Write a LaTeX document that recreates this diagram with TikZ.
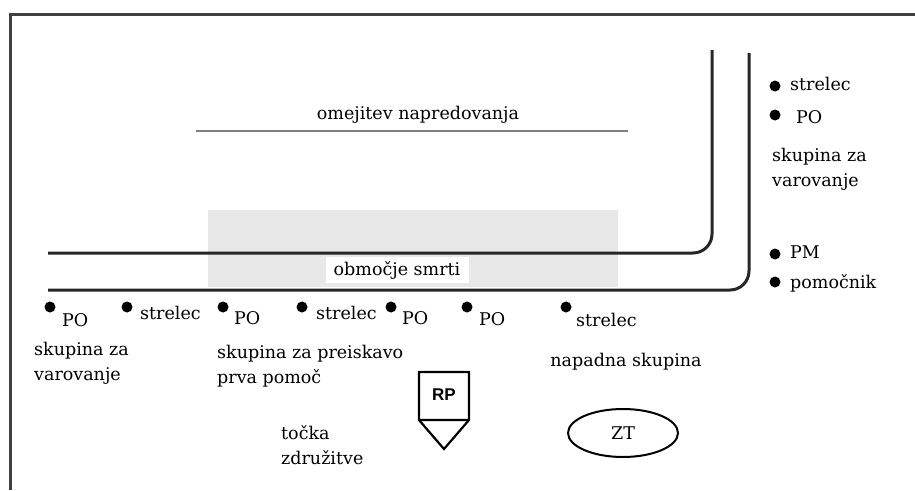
\documentclass[tikz,border=0pt]{standalone}
\usepackage{fontspec}
\setmainfont{DejaVu Serif}
\newfontfamily\rpfont{Liberation Sans}
\usetikzlibrary{shapes.geometric}
\begin{document}
\begin{tikzpicture}[x=1pt,y=-1pt,
    road/.style={line width=3pt,draw=black!85,rounded corners=19pt},
    man/.style={circle,fill=black,inner sep=0pt,minimum size=11pt},
    lbl/.style={inner sep=0pt,anchor=west,font=\fontsize{17.5}{25}\selectfont},
    grp/.style={lbl,align=left,anchor=north west}]
  \useasboundingbox (0,0) rectangle (915,490);
  \draw[line width=3pt,black!75] (10,490) -- (10,14) -- (915,14);
  \fill[black!9] (208,210) rectangle (618,287);
  \draw[line width=2.5pt,black!50] (196,131) -- (628,131);
  \node[lbl,anchor=center] (limit) at (418,115) {omejitev napredovanja};
  \draw[road] (48,253) -- (712,253) -- (712,50);
  \draw[road] (48,290) -- (749,290) -- (749,53);
  \node[lbl,anchor=center,fill=white,minimum width=143pt,minimum height=26pt] (zone) at (397,270) {območje smrti};
  \draw
    (50,307) node[man] (m1){}
    (127,307) node[man] (m2){}
    (223,307) node[man] (m3){}
    (302,307) node[man] (m4){}
    (391,307) node[man] (m5){}
    (467,307) node[man] (m6){}
    (566,307) node[man] (m7){}
    (775,86) node[man] (r1){}
    (775,115) node[man] (r2){}
    (775,254) node[man] (r3){}
    (775,282) node[man] (r4){};
  \node[lbl] (t1) at (62,320) {PO};
  \node[lbl] (t2) at (140,313) {strelec};
  \node[lbl] (t3) at (234,318) {PO};
  \node[lbl] (t4) at (316,313) {strelec};
  \node[lbl] (t5) at (402,318) {PO};
  \node[lbl] (t6) at (479,319) {PO};
  \node[lbl] (t7) at (576,320) {strelec};
  \node[lbl] (s1) at (790,84) {strelec};
  \node[lbl] (s2) at (796,117) {PO};
  \node[lbl] (s3) at (790,252) {PM};
  \node[lbl] (s4) at (790,283) {pomočnik};
  \node[grp] (g1) at (772,148) {skupina za\\varovanje};
  \node[grp] (g2) at (34,342) {skupina za\\varovanje};
  \node[grp] (g3) at (217,345) {skupina za preiskavo\\prva pomoč};
  \node[grp] (g4) at (281,425) {točka\\združitve};
  \node[lbl,anchor=center] (g5) at (626,362) {napadna skupina};
  \draw[line width=2.2pt] (419,372) -- (469,372) -- (469,420) -- (444,449) -- (419,420) -- cycle
    (419,420) -- (469,420);
  \node[font=\rpfont\bfseries\fontsize{17}{20}\selectfont] (rp) at (444,395) {RP};
  \node[draw,ellipse,line width=2pt,minimum width=110pt,minimum height=48pt,
    font=\fontsize{17.5}{20}\selectfont] (zt) at (623,433) {ZT};
\end{tikzpicture}
\end{document}
